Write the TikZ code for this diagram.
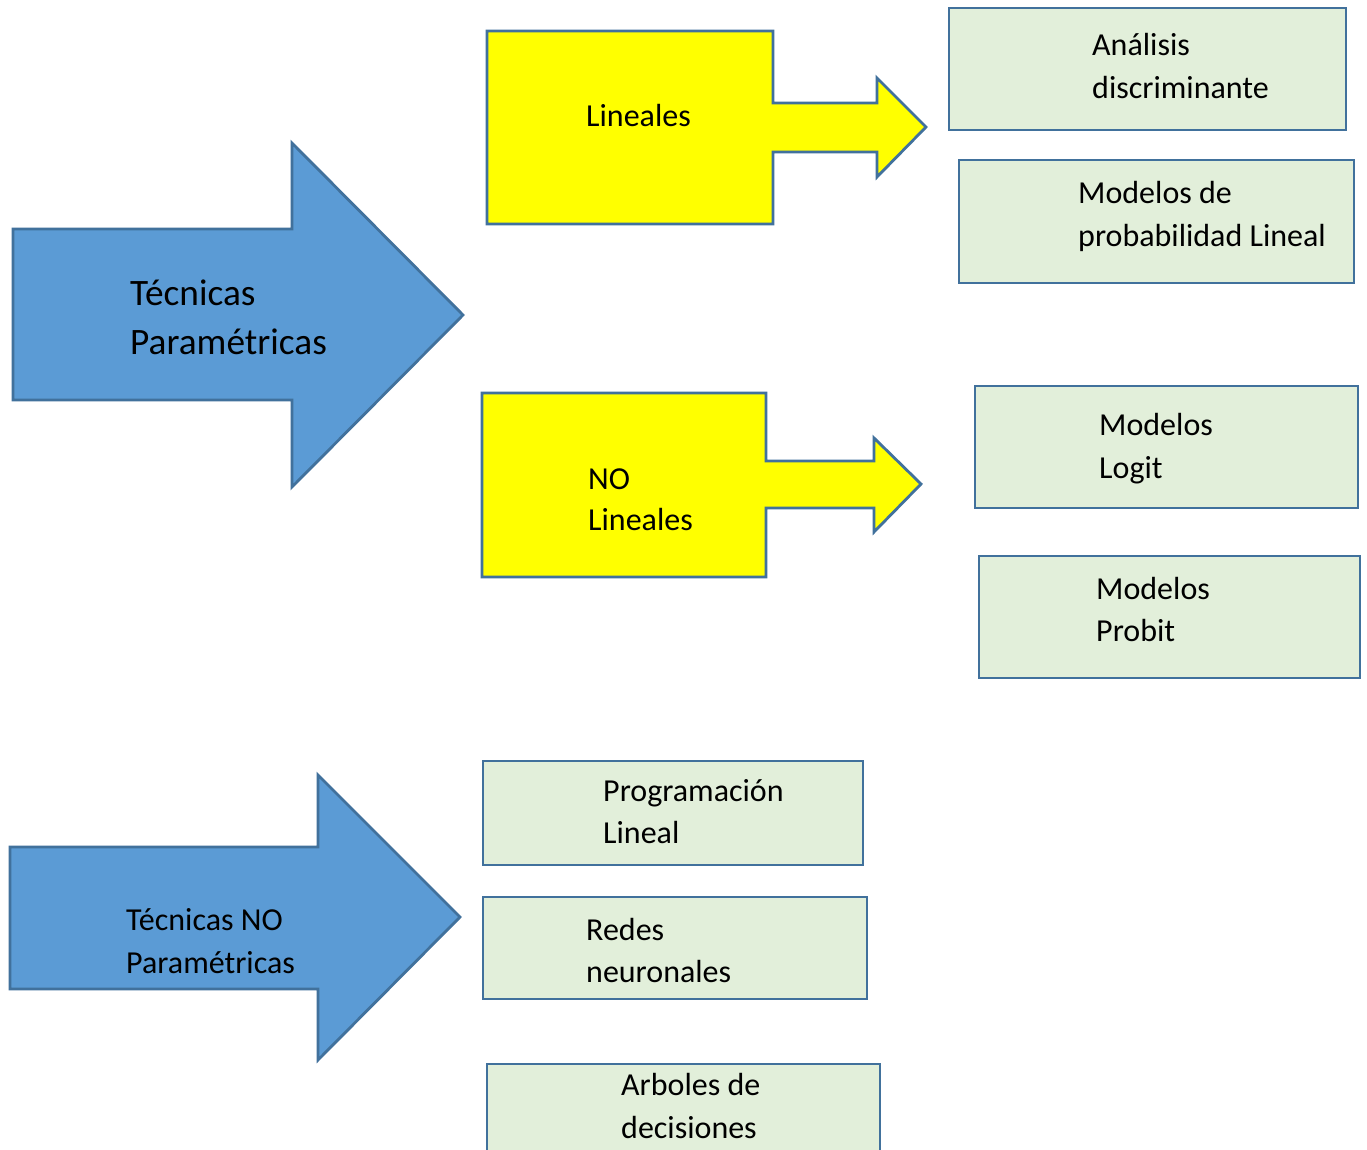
\documentclass[tikz,border=0pt]{standalone}
\usepackage{fontspec}
\setmainfont{Carlito}
\definecolor{bordc}{HTML}{41719C}
\definecolor{bluef}{HTML}{5B9BD5}
\definecolor{greenf}{HTML}{E2EFDA}
\definecolor{yelf}{HTML}{FFFF00}
\begin{document}
\begin{tikzpicture}[x=1pt,y=-1pt,
  edge/.style={draw=bordc, line width=2.8pt, line join=miter},
  bluearrow/.style={edge, fill=bluef},
  yelshape/.style={edge, fill=yelf},
  greenbox/.style={edge, fill=greenf},
  small/.style={inner sep=0pt, anchor=base west, font=\fontsize{32}{39}\selectfont},
  big/.style={inner sep=0pt, anchor=base west, font=\fontsize{37.3}{45}\selectfont}]
\useasboundingbox (0,0) rectangle (1367,1150);
\clip (0,0) rectangle (1367,1150);
\fill[white] (0,0) rectangle (1367,1150);

% blue arrows
\path[bluearrow] (13,229) -- (292,229) -- (292,143) -- (463,315) -- (292,487) -- (292,400) -- (13,400) -- cycle;
\path[bluearrow] (10,847) -- (318,847) -- (318,775) -- (460,917) -- (318,1060) -- (318,989) -- (10,989) -- cycle;

% yellow callouts
\path[yelshape] (487,31) -- (773,31) -- (773,103) -- (877,103) -- (877,78) -- (926,127) -- (877,177) -- (877,152) -- (773,152) -- (773,224) -- (487,224) -- cycle;
\path[yelshape] (482,393) -- (766,393) -- (766,461) -- (874,461) -- (874,438) -- (921,484) -- (874,532) -- (874,508) -- (766,508) -- (766,577) -- (482,577) -- cycle;

% green boxes
\path[greenbox] (949,8) rectangle (1346,130);
\path[greenbox] (959,160) rectangle (1354,283);
\path[greenbox] (975,386) rectangle (1358,508);
\path[greenbox] (979,556) rectangle (1360,678);
\path[greenbox] (483,761) rectangle (863,865);
\path[greenbox] (483,897) rectangle (867,999);
\path[greenbox] (487,1064) rectangle (880,1200);

% texts
\node[big] (tpa) at (130,305) {Técnicas};
\node[big] (tpb) at (130,354) {Paramétricas};
\node[small] (tna) at (126,930) {Técnicas NO};
\node[small] (tnb) at (126,973) {Paramétricas};
\node[small] (lin) at (586,127) {Lineales};
\node[small] (nla) at (588,489) {NO};
\node[small] (nlb) at (588,530) {Lineales};
\node[small] (ada) at (1092,56) {Análisis};
\node[small] (adb) at (1092,99) {discriminante};
\node[small] (mpa) at (1078,204) {Modelos de};
\node[small] (mpb) at (1078,247) {probabilidad Lineal};
\node[small] (mla) at (1099,435) {Modelos};
\node[small] (mlb) at (1099,478) {Logit};
\node[small] (mra) at (1096,599) {Modelos};
\node[small] (mrb) at (1096,641) {Probit};
\node[small] (pla) at (603,801) {Programación};
\node[small] (plb) at (603,843) {Lineal};
\node[small] (rna) at (586,940) {Redes};
\node[small] (rnb) at (586,982) {neuronales};
\node[small] (aba) at (621,1095) {Arboles de};
\node[small] (abb) at (621,1138) {decisiones};
\end{tikzpicture}
\end{document}
